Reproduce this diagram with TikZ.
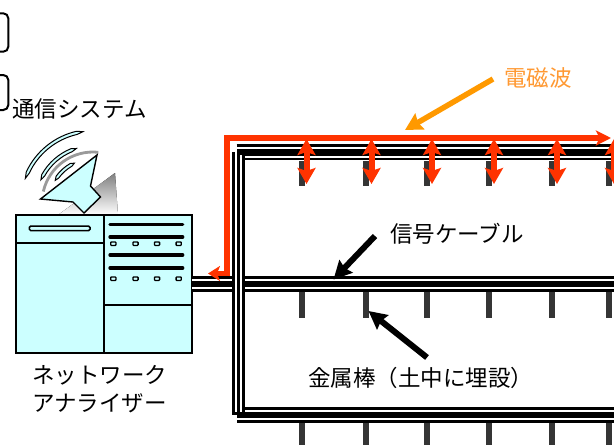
\documentclass[tikz,border=0pt]{standalone}
\usepackage{fontspec}
\newfontfamily\jpfont{Noto Sans CJK JP}
\usetikzlibrary{arrows.meta}

\definecolor{panel}{HTML}{CCFFFF}
\definecolor{signal}{HTML}{FF3300}
\definecolor{amber}{HTML}{FF9900}
\definecolor{ambertext}{HTML}{FF9933}
\definecolor{rodcol}{HTML}{353535}
\definecolor{shade}{HTML}{7A7A7A}
\definecolor{arcgray}{HTML}{9A9A9A}

% one tapered wave crescent around the current origin: start angle, end angle, radius
\newcommand\wavearc[3]{%
  \filldraw[wavefill] (#1:#3) -- (#1+5:#3+1.6) arc[start angle=#1+5, end angle=#2-5, radius=#3+1.6]
    -- (#2:#3) -- (#2-5:#3-1.6) arc[start angle=#2-5, end angle=#1+5, radius=#3-1.6] -- cycle;}

\begin{document}
\begin{tikzpicture}[x=1pt,y=-1pt,
  label/.style={font=\jpfont\fontsize{22.5}{27}\selectfont, inner sep=0pt, anchor=base west},
  outline/.style={draw=black, line width=2pt, fill=panel},
  wavefill/.style={draw=black, line width=1pt, fill=panel, line join=miter},
  hcable/.style={line width=16pt, black},
  vcable/.style={line width=13pt, black},
  gap/.style={line width=1.8pt, white},
  rodbar/.style={line width=6pt, rodcol},
  ray/.style={signal, line width=5.5pt, line join=miter},
  pulse/.style={signal, line width=6pt, {Stealth[length=16pt, width=18pt, inset=3pt]}-{Stealth[length=16pt, width=18pt, inset=3pt]}},
  pointer/.style={black, line width=6pt, -{Stealth[length=18pt, width=18pt, inset=2pt]}},
  emarrow/.style={amber, line width=5.5pt, -{Stealth[length=17pt, width=18pt, inset=2pt]}},
  panelbar/.style={line width=3.3pt, line cap=round},
  led/.style={line width=1.3pt, rounded corners=0.8pt}
]
\useasboundingbox (0,0) rectangle (614,445);
\clip (0,0) rectangle (614,445);

% window edges at the top left
\draw[line width=2pt, rounded corners=5pt] (-6,13.3) -- (8.3,13.3) -- (8.3,51.7) -- (-6,51.7);
\draw[line width=2pt, rounded corners=5pt] (-6,75) -- (8.3,75) -- (8.3,110) -- (-6,110);

% ---- antenna ----
\fill[shade] (115,173) -- (118,215) -- (58,215) -- cycle;
\begin{scope}[shift={(93,203)}]
  \draw[arcgray, line width=2.8pt] (-167:51) arc[start angle=-167, end angle=-84, radius=51];
  \wavearc{-160}{-98}{72}
  \wavearc{-156}{-107}{57}
  \wavearc{-149}{-115}{44}
\end{scope}
\filldraw[outline, line width=1.4pt, line join=miter]
  (40.5,199) -- (97,155) -- (90.5,186) -- (100.5,197) -- (84,213) -- (73,202) -- cycle;

% ---- network analyzer ----
\draw[outline] (15.7,215) rectangle (192.3,353.3);
\draw[line width=2pt] (104.3,215) -- (104.3,353.3);
\draw[line width=2pt] (15.7,243.3) -- (104.3,243.3);
\draw[line width=2pt] (104.3,305.3) -- (192.3,305.3);
\draw[line width=1.5pt, rounded corners=1.5pt] (29.3,226) rectangle (90,230.7);
\foreach \yy in {224.3,237,255,267.9}
  \draw[panelbar] (110,\yy) -- (182.7,\yy);
\foreach \yy in {243.7,278.7}
  \foreach \xx in {113.3,135.5,157,178.7}
    \draw[led] (\xx-2.6,\yy-1.8) rectangle (\xx+2.6,\yy+1.8);

% ---- signal cables ----
\draw[hcable] (192.3,284) -- (620,284);
\draw[gap] (192.3,279.8) -- (620,279.8);
\draw[gap] (192.3,288.2) -- (620,288.2);

\draw[hcable] (236.7,152.3) -- (620,152.3);
\draw[gap] (236.7,147.6) -- (620,147.6);
\draw[gap] (236.7,156.8) -- (620,156.8);

\draw[hcable] (237,415) -- (620,415);
\draw[gap] (237,410.8) -- (620,410.8);
\draw[gap] (237,418.6) -- (620,418.6);

\draw[vcable] (238.8,152.3) -- (238.8,415);
\draw[gap] (235.9,152.3) -- (235.9,412);
\draw[gap] (241.2,155) -- (241.2,412);

% ---- buried metal rods ----
\foreach \xx in {301.5,366,426.5,489,551.5,609} {
  \draw[rodbar] (\xx,160.5) -- (\xx,186);
  \draw[rodbar] (\xx,291.5) -- (\xx,318);
  \draw[rodbar] (\xx,422.8) -- (\xx,450);
}

% ---- propagating wave along the cable ----
\coordinate (rayEnd) at (208,273.5);
\coordinate (rayLow) at (227,273.5);
\coordinate (rayHigh) at (227,138);
\coordinate (rayFar) at (611,138);
\draw[ray, {Stealth[length=12pt, width=15pt, inset=3pt]}-{Stealth[length=15pt, width=15pt, inset=3.5pt]}]
  (rayEnd) -- (rayLow) -- (rayHigh) -- (rayFar);

\foreach \xx in {306.5,371.5,432,494,557,614}
  \draw[pulse] (\xx,139) -- (\xx,184);

% ---- labels and pointers ----
\node[label] (system) at (12,117) {通信システム};
\node[label] (analyzer1) at (32,383.5) {ネットワーク};
\node[label] (analyzer2) at (32,411.5) {アナライザー};
\node[label, text=ambertext] (emwave) at (504,86) {電磁波};
\node[label] (cablelabel) at (390,242.5) {信号ケーブル};
\node[label] (rodlabel) at (308,386) {金属棒（土中に埋設）};

\coordinate (emTail) at (493,79);
\coordinate (emTip) at (405,130);
\draw[emarrow] (emTail) -- (emTip);

\coordinate (cableTail) at (375,236);
\coordinate (cableTip) at (333.5,279.5);
\draw[pointer] (cableTail) -- (cableTip);

\coordinate (rodTail) at (427,357.5);
\coordinate (rodTip) at (368.5,311);
\draw[pointer] (rodTail) -- (rodTip);
\end{tikzpicture}
\end{document}
